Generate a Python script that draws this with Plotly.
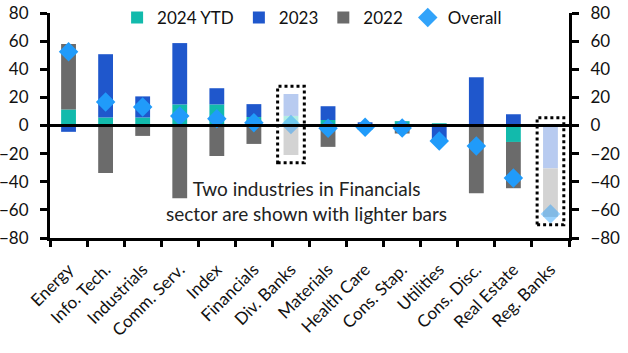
import plotly.graph_objects as go

categories = ["Energy", "Info. Tech.", "Industrials", "Comm. Serv.", "Index", "Financials",
              "Div. Banks", "Materials", "Health Care", "Cons. Stap.", "Utilities",
              "Cons. Disc.", "Real Estate", "Reg. Banks"]
ytd2024 = [11.4, 5.7, 5.7, 15.0, 15.0, 6.0, 6.8, 3.9, 0.5, 3.1, 1.6, 0.0, -11.7, 0.0]
y2023 = [-4.5, 45.0, 15.0, 43.6, 11.5, 9.2, 15.6, 9.8, 1.8, 0.0, -11.7, 34.3, 8.0, -30.5]
y2022 = [46.6, -33.8, -7.4, -51.7, -21.7, -13.1, -21.0, -15.2, -3.0, -5.7, 0.0, -48.1, -32.9, -34.5]
overall = [52.4, 16.7, 13.1, 6.7, 4.8, 2.0, 0.8, -2.0, -1.2, -1.8, -11.0, -14.5, -37.4, -62.9]
lighter = ["Div. Banks", "Reg. Banks"]
y_ticks = [-80, -60, -40, -20, 0, 20, 40, 60, 80]
note = "Two industries in Financials<br>sector are shown with lighter bars"

FONT = "Lato"
C24, C23, C22, COV = "#12BAAC", "#1F57CC", "#6B6B6B", "#209BFA"
L24, L23, L22 = "#B3EDE3", "#B8CBF0", "#D3D3D3"

is_light = [c in lighter for c in categories]

def cols(dark, light):
    return [light if l else dark for l in is_light]

fig = go.Figure()
for name, vals, dark, light in [("2024 YTD", ytd2024, C24, L24),
                                ("2023", y2023, C23, L23),
                                ("2022", y2022, C22, L22)]:
    fig.add_trace(go.Bar(x=categories, y=vals, name=name, width=0.4,
                         marker=dict(color=cols(dark, light), line=dict(width=0))))

fig.add_trace(go.Scatter(x=categories, y=overall, name="Overall", mode="markers",
                         marker=dict(symbol="diamond", size=15, color=COV,
                                     opacity=[0.45 if l else 1 for l in is_light],
                                     line=dict(width=0))))
# invisible trace to anchor the right axis
fig.add_trace(go.Scatter(x=categories, y=overall, yaxis="y2", mode="markers",
                         marker=dict(opacity=0), showlegend=False, hoverinfo="skip"))

# dotted boxes around lighter bars
for i, c in enumerate(categories):
    if is_light[i]:
        parts = [ytd2024[i], y2023[i], y2022[i]]
        top = sum(p for p in parts if p > 0)
        bot = sum(p for p in parts if p < 0)
        fig.add_shape(type="rect", xref="x", yref="y", x0=i - 0.36, x1=i + 0.36,
                      y0=bot - 5.5, y1=top + 5.5,
                      line=dict(color="black", width=3, dash="dot"))

fig.add_annotation(x=6.42, y=-53.7, xref="x", yref="y", text=note,
                   showarrow=False, font=dict(family=FONT, size=19, color="#222"),
                   align="center", yanchor="middle", xanchor="center")

axis_common = dict(range=[-80, 80], tickvals=y_ticks, ticks="outside", ticklen=7,
                   tickwidth=3, tickcolor="black", showline=True, linewidth=3,
                   linecolor="black", showgrid=False, zeroline=False,
                   ticklabelstandoff=8,
                   tickfont=dict(family=FONT, size=17, color="#111"))

fig.update_layout(
    width=628, height=353, barmode="relative",
    margin=dict(l=50, r=59, t=13, b=115, autoexpand=False),
    paper_bgcolor="white", plot_bgcolor="white",
    font=dict(family=FONT, color="#111"),
    xaxis=dict(range=[-0.5, len(categories) - 0.5], autorange=False,
               tickangle=-45, ticks="outside", tickson="boundaries", ticklen=6,
               tickwidth=3, tickcolor="black", showline=True, linewidth=3,
               linecolor="black", showgrid=False, zeroline=False,
               ticklabelstandoff=12,
               tickfont=dict(family=FONT, size=17, color="#111")),
    yaxis=dict(side="left", **axis_common),
    yaxis2=dict(side="right", overlaying="y", **axis_common),
    legend=dict(orientation="h", x=0.505, xanchor="center", y=0.978, yanchor="middle",
                font=dict(family=FONT, size=17, color="#111"), bgcolor="rgba(0,0,0,0)",
                itemwidth=30, traceorder="normal"),
    showlegend=True,
)
fig.add_hline(y=0, line=dict(color="black", width=3))

fig.write_html("out.html")
